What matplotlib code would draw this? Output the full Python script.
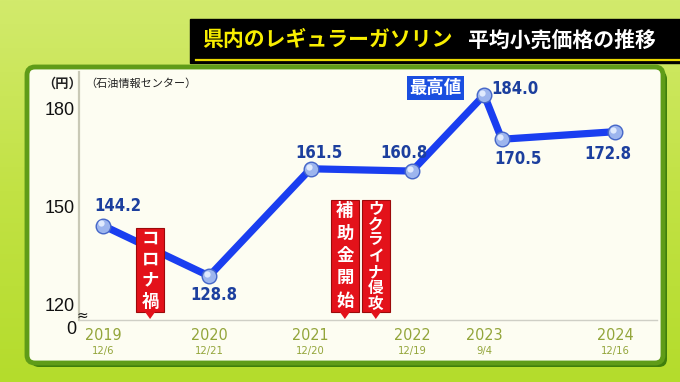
import datetime as dt

import matplotlib

matplotlib.use("Agg")

import matplotlib.dates as mdates
import matplotlib.pyplot as plt
import matplotlib.transforms as mtransforms
import numpy as np
from matplotlib.patches import FancyBboxPatch, Polygon, Rectangle

plt.rcParams["font.family"] = ["Noto Sans CJK JP", "DejaVu Sans"]

# --- data ---
point_dates = ["2019-12-06", "2020-12-21", "2021-12-20", "2022-12-19",
               "2023-09-04", "2023-11-06", "2024-12-16"]
prices = [144.2, 128.8, 161.5, 160.8, 184.0, 170.5, 172.8]
price_texts = ["144.2", "128.8", "161.5", "160.8", "184.0", "170.5", "172.8"]

tick_dates = ["2019-12-06", "2020-12-21", "2021-12-20", "2022-12-19",
              "2023-09-04", "2024-12-16"]
tick_years = ["2019", "2020", "2021", "2022", "2023", "2024"]
tick_days = ["12/6", "12/21", "12/20", "12/19", "9/4", "12/16"]

y_ticks = [120, 150, 180]

event_names = ["コロナ禍", "補助金開始", "ウクライナ侵攻"]
event_dates = ["2020-05-23", "2022-04-22", "2022-08-11"]

peak_name = "最高値"
title_left = "県内のレギュラーガソリン"
title_right = "平均小売価格の推移"
source_text = "（石油情報センター）"
unit_text = "（円）"

# label offsets in points (layout only)
label_offsets = [(11, 14), (3, -14), (6, 11), (-6, 13), (22, 4), (12, -14), (-5, -16)]
event_tops = [228, 200, 200]
event_sizes = [12.5, 12.5, 11.2]

W, H = 680, 382
NUM_FONT = ["Liberation Sans Narrow", "DejaVu Sans"]
LINE_BLUE = "#1a3ef0"
LABEL_BLUE = "#1c3f9e"
OLIVE = "#93a53a"


def to_date(s):
    return dt.datetime.strptime(s, "%Y-%m-%d")


fig = plt.figure(figsize=(W / 100, H / 100), dpi=100)

# background layer in pixel coords (y down)
bg = fig.add_axes([0, 0, 1, 1], zorder=0)
bg.set_xlim(0, W)
bg.set_ylim(H, 0)
bg.axis("off")
grad = np.linspace(0, 1, 256).reshape(-1, 1)
bg_cmap = matplotlib.colors.LinearSegmentedColormap.from_list("bg", ["#d2ea6c", "#c2e244", "#b4dc2c"])
bg.imshow(grad, extent=(0, W, H, 0), aspect="auto", cmap=bg_cmap, zorder=0)

# title bar
bg.add_patch(Rectangle((190, 19), W - 190, 44, color="black", zorder=1))
bg.plot([196, W], [59.5, 59.5], color="#e8d800", linewidth=1.6, zorder=2)
bg.text(202, 40, title_left, color="#f8ee00", fontsize=15, fontweight="bold", ha="left", va="center", zorder=3)
bg.text(468, 40, title_right, color="white", fontsize=15, fontweight="bold", ha="left", va="center", zorder=3)

# chart panel
bg.add_patch(FancyBboxPatch((31, 71), 636, 296, boxstyle="round,pad=0,rounding_size=8",
                            facecolor="#3f7e0c", edgecolor="none", zorder=1))
bg.add_patch(FancyBboxPatch((27, 67), 636, 296, boxstyle="round,pad=0,rounding_size=8",
                            facecolor="#fdfdf2", edgecolor="#5f9c18", linewidth=3.5, zorder=2))
bg.text(62, 84, unit_text, fontsize=9.5, fontweight="bold", ha="center", va="center", color="#222222", zorder=3)
bg.text(85, 84, source_text, fontsize=8, ha="left", va="center", color="#222222", zorder=3)

# main axes
ax = fig.add_axes([79 / W, (H - 320) / H, 578 / W, 248 / H], zorder=1)
ax.patch.set_alpha(0)
xs = [to_date(d) for d in point_dates]
ax.set_xlim(to_date("2019-09-11"), to_date("2025-05-16"))
ax.set_ylim(115.4, 191.0)

for side in ["top", "right"]:
    ax.spines[side].set_visible(False)
ax.spines["left"].set_color("#c9c9b6")
ax.spines["left"].set_linewidth(1.6)
ax.spines["bottom"].set_color("#cfcfc6")
ax.spines["bottom"].set_linestyle((0, (1, 1)))
ax.spines["bottom"].set_linewidth(1.0)

ax.set_yticks(y_ticks)
ax.set_yticklabels([str(v) for v in y_ticks], fontsize=13, family=["Liberation Sans", "DejaVu Sans"], color="#111111")
ax.tick_params(axis="y", length=0, pad=3)
ax.set_xticks([])

ax.plot(xs, prices, color=LINE_BLUE, linewidth=5.2, solid_capstyle="round", zorder=3)
ax.plot(xs, prices, linestyle="none", marker="o", markersize=10.5,
        markerfacecolor="#9db5ee", markeredgecolor="#4566c8", markeredgewidth=1.0, zorder=4)
hl = ax.transData + mtransforms.ScaledTranslation(-1.5 / 72, 1.5 / 72, fig.dpi_scale_trans)
ax.plot(xs, prices, linestyle="none", marker="o", markersize=4.5, markerfacecolor="#e8f0ff",
        markeredgecolor="none", alpha=0.9, transform=hl, zorder=5)

for x, y, txt, off in zip(xs, prices, price_texts, label_offsets):
    ax.annotate(txt, (x, y), xytext=off, textcoords="offset points", ha="center", va="center",
                fontsize=12, fontweight="bold", family=NUM_FONT, fontstretch="condensed",
                color=LABEL_BLUE, zorder=6)

peak_i = int(np.argmax(prices))
ax.annotate(peak_name, (xs[peak_i], prices[peak_i]), xytext=(-35, 5), textcoords="offset points",
            ha="center", va="center", fontsize=12.5, fontweight="bold", color="white", zorder=6,
            bbox=dict(boxstyle="square,pad=0.15", facecolor="#1a4ee0", edgecolor="none"))

for d, yr, dd in zip(tick_dates, tick_years, tick_days):
    x = to_date(d)
    ax.annotate(yr, (x, 0), xycoords=("data", "axes fraction"), xytext=(0, -11), textcoords="offset points",
                ha="center", va="center", fontsize=11.5, family=NUM_FONT, fontstretch="condensed",
                color=OLIVE, annotation_clip=False)
    ax.annotate(dd, (x, 0), xycoords=("data", "axes fraction"), xytext=(0, -22), textcoords="offset points",
                ha="center", va="center", fontsize=8, family=NUM_FONT, fontstretch="condensed",
                color=OLIVE, annotation_clip=False)

ax.text(-3 / 578, -9 / 248, "0", transform=ax.transAxes, ha="right", va="center", fontsize=13,
        family=["Liberation Sans", "DejaVu Sans"], color="#111111", clip_on=False)
ax.text(3 / 578, 4 / 248, "≈", transform=ax.transAxes, ha="center", va="center", fontsize=10,
        family="DejaVu Sans", color="#111111", clip_on=False)

# event flags on top, positioned from the main axes scale
top = fig.add_axes([0, 0, 1, 1], zorder=3)
top.set_xlim(0, W)
top.set_ylim(H, 0)
top.axis("off")
top.patch.set_alpha(0)
for name, d, y0, fs in zip(event_names, event_dates, event_tops, event_sizes):
    px = ax.transData.transform((mdates.date2num(to_date(d)), 150))[0]
    y1 = 312
    top.add_patch(Rectangle((px - 14, y0), 28, y1 - y0, facecolor="#e3121a", edgecolor="#9c0a0a",
                            linewidth=0.8, zorder=1))
    top.add_patch(Polygon([(px - 5, y1), (px + 5, y1), (px, y1 + 7)], closed=True,
                          facecolor="#e3121a", edgecolor="none", zorder=1))
    step = (y1 - y0) / len(name)
    for k, ch in enumerate(name):
        top.text(px, y0 + step * (k + 0.5), ch, ha="center", va="center", fontsize=fs,
                 fontweight="bold", color="white", zorder=2)

fig.savefig("out.png", dpi=100)
